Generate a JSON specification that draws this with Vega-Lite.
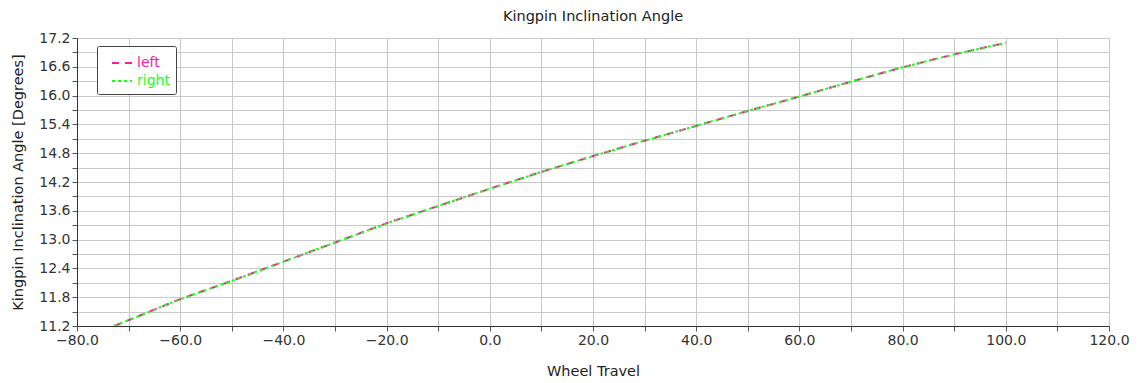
{
  "$schema": "https://vega.github.io/schema/vega-lite/v6.json",
  "width": 1032,
  "height": 288,
  "autosize": {"type": "none"},
  "padding": {"left": 77, "top": 38, "right": 32, "bottom": 57},
  "background": "white",
  "title": {"text": "Kingpin Inclination Angle", "font": "DejaVu Sans", "fontSize": 14.5, "fontWeight": "normal", "color": "#222222", "offset": 7},
  "config": {
    "view": {"stroke": "#aaaaaa", "strokeWidth": 1},
    "axis": {"labelFont": "DejaVu Sans", "titleFont": "DejaVu Sans", "labelFontSize": 14, "titleFontSize": 14.5, "titleFontWeight": "normal", "labelColor": "#333333", "titleColor": "#222222", "domainColor": "#333333", "tickColor": "#555555", "gridColor": "#c8c8c8", "gridOpacity": 1, "tickSize": 5}
  },
  "data": {"values": [
    {"x": -72.8, "y": 11.2, "series": "left"},
    {"x": -60, "y": 11.76, "series": "left"},
    {"x": -50, "y": 12.14, "series": "left"},
    {"x": -40, "y": 12.54, "series": "left"},
    {"x": -30, "y": 12.94, "series": "left"},
    {"x": -20, "y": 13.34, "series": "left"},
    {"x": -10, "y": 13.70, "series": "left"},
    {"x": 0, "y": 14.06, "series": "left"},
    {"x": 10, "y": 14.41, "series": "left"},
    {"x": 20, "y": 14.74, "series": "left"},
    {"x": 30, "y": 15.06, "series": "left"},
    {"x": 40, "y": 15.37, "series": "left"},
    {"x": 50, "y": 15.68, "series": "left"},
    {"x": 60, "y": 15.98, "series": "left"},
    {"x": 70, "y": 16.29, "series": "left"},
    {"x": 80, "y": 16.59, "series": "left"},
    {"x": 90, "y": 16.86, "series": "left"},
    {"x": 100, "y": 17.10, "series": "left"},
    {"x": -72.8, "y": 11.2, "series": "right"},
    {"x": -60, "y": 11.76, "series": "right"},
    {"x": -50, "y": 12.14, "series": "right"},
    {"x": -40, "y": 12.54, "series": "right"},
    {"x": -30, "y": 12.94, "series": "right"},
    {"x": -20, "y": 13.34, "series": "right"},
    {"x": -10, "y": 13.70, "series": "right"},
    {"x": 0, "y": 14.06, "series": "right"},
    {"x": 10, "y": 14.41, "series": "right"},
    {"x": 20, "y": 14.74, "series": "right"},
    {"x": 30, "y": 15.06, "series": "right"},
    {"x": 40, "y": 15.37, "series": "right"},
    {"x": 50, "y": 15.68, "series": "right"},
    {"x": 60, "y": 15.98, "series": "right"},
    {"x": 70, "y": 16.29, "series": "right"},
    {"x": 80, "y": 16.59, "series": "right"},
    {"x": 90, "y": 16.86, "series": "right"},
    {"x": 100, "y": 17.10, "series": "right"}
  ]},
  "mark": {"type": "line", "strokeWidth": 2, "clip": true},
  "encoding": {
    "x": {"field": "x", "type": "quantitative",
      "scale": {"domain": [-80, 120], "nice": false, "zero": false},
      "axis": {"title": "Wheel Travel", "titleY": 45, "titleBaseline": "middle",
        "values": [-80,-70,-60,-50,-40,-30,-20,-10,0,10,20,30,40,50,60,70,80,90,100,110,120],
        "format": ".1f", "labelExpr": "abs(datum.value) % 20 == 0 ? datum.label : ''", "labelFlush": false, "labelPadding": 2}},
    "y": {"field": "y", "type": "quantitative",
      "scale": {"domain": [11.2, 17.2], "nice": false, "zero": false},
      "axis": {"title": "Kingpin Inclination Angle [Degrees]", "titleX": -59, "titleY": 144, "titleAlign": "center", "titleBaseline": "middle", "titleAngle": -90,
        "values": [11.2,11.5,11.8,12.1,12.4,12.7,13.0,13.3,13.6,13.9,14.2,14.5,14.8,15.1,15.4,15.7,16.0,16.3,16.6,16.9,17.2],
        "format": ".1f", "labelExpr": "round((datum.value - 11.2) / 0.3) % 2 == 0 ? datum.label : ''", "labelPadding": 2}},
    "color": {"field": "series", "type": "nominal",
      "scale": {"domain": ["left", "right"], "range": ["#ff1a9c", "#1aff1a"]},
      "legend": {"title": null, "orient": "none", "legendX": 20, "legendY": 8,
        "strokeColor": "#444444", "fillColor": "white", "padding": 6, "cornerRadius": 2,
        "labelFont": "DejaVu Sans", "labelFontSize": 14, "labelOffset": 4, "symbolOffset": 8,
        "symbolType": "stroke", "symbolStrokeWidth": 2, "symbolSize": 400, "rowPadding": -2,
        "encode": {"labels": {"update": {"fill": {"scale": "color", "field": "value"}}}}}},
    "strokeDash": {"field": "series", "type": "nominal",
      "scale": {"domain": ["left", "right"], "range": [[7, 6], [3, 3]]},
      "legend": {"title": null, "orient": "none", "legendX": 20, "legendY": 8,
        "strokeColor": "#444444", "fillColor": "white", "padding": 6, "cornerRadius": 2,
        "labelFont": "DejaVu Sans", "labelFontSize": 14, "labelOffset": 4, "symbolOffset": 8,
        "symbolType": "stroke", "symbolStrokeWidth": 2, "symbolSize": 400, "rowPadding": -2,
        "encode": {"labels": {"update": {"fill": {"scale": "color", "field": "value"}}}}}}
  }
}
